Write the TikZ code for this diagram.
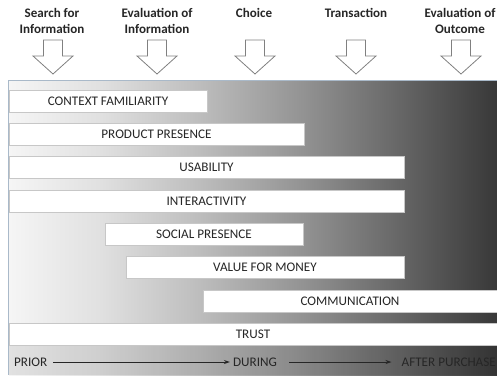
\documentclass[tikz,border=0pt]{standalone}
\usepackage{fontspec}
\setmainfont{Carlito}
\usetikzlibrary{arrows.meta}
\definecolor{panelborder}{HTML}{A9B9C9}
\definecolor{txt}{HTML}{262626}
\pgfdeclarehorizontalshading{bgshade}{295bp}{color(0bp)=(white!96!black); color(2bp)=(white!96!black); color(92bp)=(white!88!black); color(192bp)=(white!74!black); color(292bp)=(white!58!black); color(392bp)=(white!40!black); color(489bp)=(white!22!black)}
\begin{document}
\begin{tikzpicture}[x=1bp,y=-1bp,
  bar/.style={fill=white, draw=black!22, line width=0.5pt, inner sep=0pt, minimum height=22bp, text=txt, font=\fontsize{13.2}{15}\selectfont},
  head/.style={align=center, text=txt, font=\bfseries\fontsize{13.1}{16}\selectfont, inner sep=0pt},
  lab/.style={text=txt, font=\fontsize{13.2}{15}\selectfont, inner sep=0pt},
  darrow/.pic={\draw[draw=black!50, fill=white, line width=0.8pt, line join=miter] (-9.5,0) -- (9.5,0) -- (9.5,16) -- (20,16) -- (0,34) -- (-20,16) -- (-9.5,16) -- cycle;},
  conn/.style={-{Stealth[length=6pt,width=4pt]}, line width=0.9pt, black!85}
]
\useasboundingbox (0,0) rectangle (497,375);
\node[anchor=south west, inner sep=0pt, outer sep=0pt] (bg) at (8,375) {\pgfuseshading{bgshade}};
\fill[black, opacity=0.08] (8,346) rectangle (497,375);
\draw[panelborder, line width=1pt] (497,80) -- (8,80) -- (8,375);

% headers
\node[head] (h1) at (52,21) {Search for\\Information};
\node[head] (h2) at (157,21) {Evaluation of\\Information};
\node[head] (h3) at (254,13) {Choice};
\node[head] (h4) at (356,13) {Transaction};
\node[head] (h5) at (460,21) {Evaluation of\\Outcome};

\pic at (53,40) {darrow};
\pic at (157,40) {darrow};
\pic at (255,40) {darrow};
\pic at (356,40) {darrow};
\pic at (461,40) {darrow};

% bars
\node[bar, minimum width=198bp] (b1) at (108,101) {CONTEXT FAMILIARITY};
\node[bar, minimum width=295bp] (b2) at (156.5,134.3) {PRODUCT PRESENCE};
\node[bar, minimum width=395bp] (b3) at (206.5,167.6) {USABILITY};
\node[bar, minimum width=395bp] (b4) at (206.5,201) {INTERACTIVITY};
\node[bar, minimum width=198bp] (b5) at (204,234.3) {SOCIAL PRESENCE};
\node[bar, minimum width=278bp] (b6) at (265,267.6) {VALUE FOR MONEY};
\node[bar, minimum width=294bp] (b7) at (350,301) {COMMUNICATION};
\node[bar, minimum width=488bp] (b8) at (253,334.3) {TRUST};

% bottom timeline
\node[lab, anchor=west] (prior) at (14,362) {PRIOR};
\node[lab] (during) at (255,362) {DURING};
\node[lab, anchor=east] (after) at (496,362) {AFTER PURCHASE};
\draw[conn] ([xshift=6pt]prior.east) -- ([xshift=-3pt]during.west);
\draw[conn] ([xshift=12pt]during.east) -- ([xshift=-10pt]after.west);
\end{tikzpicture}
\end{document}
